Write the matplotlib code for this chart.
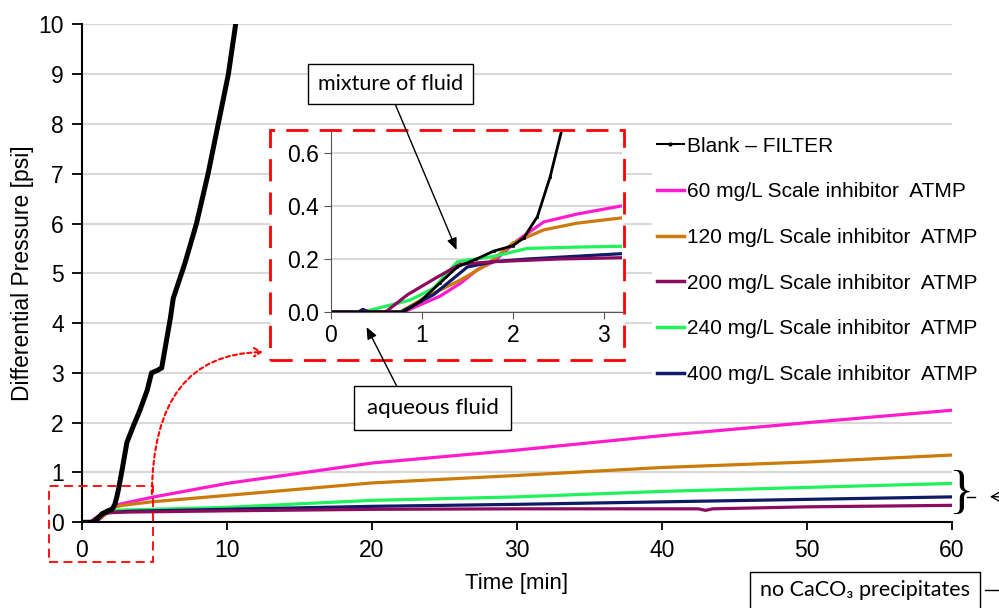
import matplotlib
matplotlib.use("Agg")
import matplotlib.pyplot as plt
from matplotlib.lines import Line2D
from matplotlib.patches import Rectangle, FancyArrowPatch

plt.rcParams['font.family'] = ['Liberation Sans', 'DejaVu Sans']

# Data (time [min], differential pressure [psi])
blank_t = [0, 0.8, 0.98, 1.2, 1.39, 1.6, 1.79, 2.0, 2.12, 2.27, 2.41, 2.54, 2.8, 3.1, 3.5,
           4.0, 4.5, 4.8, 5.2, 5.5, 6.1, 6.3, 7.1, 7.9, 8.7, 9.4, 10.1, 10.6]
blank_p = [0, 0, 0.04, 0.11, 0.17, 0.2, 0.23, 0.25, 0.28, 0.36, 0.51, 0.69, 1.1, 1.6, 1.9,
           2.25, 2.65, 3.0, 3.05, 3.1, 4.1, 4.5, 5.2, 6.0, 7.0, 8.0, 9.0, 10.0]

atmp60_t = [0, 0.8, 1.0, 1.2, 1.43, 1.61, 1.79, 2.05, 2.34, 2.71, 3.19, 4.8, 10, 20, 30, 40, 50, 60]
atmp60_p = [0, 0, 0.03, 0.06, 0.11, 0.16, 0.19, 0.27, 0.34, 0.37, 0.40, 0.50, 0.78, 1.19, 1.45,
            1.74, 2.0, 2.25]

atmp120_t = [0, 0.76, 1.05, 1.42, 1.72, 2.0, 2.34, 2.7, 3.19, 4.8, 10, 20, 30, 40, 50, 60]
atmp120_p = [0, 0, 0.058, 0.12, 0.18, 0.26, 0.31, 0.335, 0.355, 0.41, 0.54, 0.79, 0.94, 1.1,
             1.21, 1.35]

atmp200_t = [0, 0.6, 0.84, 1.16, 1.42, 1.79, 2.5, 3.19, 10, 20, 30, 40, 42.5, 43, 43.5, 50, 60]
atmp200_p = [0, 0, 0.065, 0.13, 0.18, 0.19, 0.2, 0.205, 0.23, 0.26, 0.27, 0.27, 0.27, 0.24,
             0.27, 0.31, 0.34]

atmp240_t = [0, 0.35, 0.87, 1.13, 1.39, 1.79, 2.16, 2.7, 3.19, 10, 20, 30, 40, 50, 60]
atmp240_p = [0, 0, 0.045, 0.09, 0.19, 0.21, 0.24, 0.245, 0.248, 0.30, 0.44, 0.51, 0.62, 0.70, 0.78]

atmp400_t = [0, 0.3, 0.35, 0.42, 0.77, 1.13, 1.5, 1.79, 2.16, 3.19, 10, 20, 30, 40, 50, 60]
atmp400_p = [0, 0, 0.01, 0, 0, 0.066, 0.17, 0.19, 0.2, 0.22, 0.26, 0.32, 0.36, 0.41, 0.46, 0.51]

labels = ["Blank \u2013 FILTER",
          "60 mg/L Scale inhibitor  ATMP",
          "120 mg/L Scale inhibitor  ATMP",
          "200 mg/L Scale inhibitor  ATMP",
          "240 mg/L Scale inhibitor  ATMP",
          "400 mg/L Scale inhibitor  ATMP"]
colors = ["black", "#ff1ccd", "#cc7a0a", "#8c0b5e", "#1ff25a", "#0f1b66"]

series = [(atmp60_t, atmp60_p), (atmp120_t, atmp120_p), (atmp240_t, atmp240_p),
          (atmp400_t, atmp400_p), (atmp200_t, atmp200_p)]
series_colors = [colors[1], colors[2], colors[4], colors[5], colors[3]]

fig = plt.figure(figsize=(9.99, 6.08), dpi=100)
ax = fig.add_axes([0.082, 0.141, 0.871, 0.819])

for (t, p), c in zip(series, series_colors):
    ax.plot(t, p, color=c, lw=2.3, zorder=3)
ax.plot(blank_t, blank_p, color="black", lw=3.6, zorder=4)

ax.set_xlim(0, 60)
ax.set_ylim(0, 10)
ax.set_xticks(range(0, 61, 10))
ax.set_yticks(range(0, 11))
ax.grid(axis="y", color="#d9d9d9", lw=1.5)
ax.set_axisbelow(True)
for s in ["top", "right"]:
    ax.spines[s].set_visible(False)
ax.spines["left"].set_linewidth(1.5)
ax.spines["bottom"].set_linewidth(1.5)
ax.tick_params(labelsize=16.5, width=1.3)
ax.tick_params(axis="y", length=7, pad=6)
ax.tick_params(axis="x", length=6, pad=6)
ax.set_xlabel("Time [min]", fontsize=16, labelpad=8)
ax.set_ylabel("Differential Pressure [psi]", fontsize=16.5, labelpad=3)

# small highlighted region
ax.add_patch(Rectangle((-2.28, -0.8), 7.18, 1.52, fill=False, edgecolor="red",
                       lw=1.3, linestyle=(0, (5, 3)), clip_on=False, zorder=6))

# inset frame
ax.add_patch(Rectangle((0.2703, 0.4079), 0.3544, 0.3783, transform=fig.transFigure,
                       facecolor="white", edgecolor="red", lw=2,
                       linestyle=(0, (8, 4)), clip_on=False, zorder=7))

arc = FancyArrowPatch((0.152, 0.183), (0.266, 0.421), transform=fig.transFigure,
                      connectionstyle="angle3,angleA=90,angleB=0",
                      arrowstyle="->,head_length=5,head_width=3", color="red",
                      lw=1.5, linestyle=(0, (2, 1.5)), zorder=6)
fig.add_artist(arc)

# legend
handles = [Line2D([], [], color=colors[0], lw=1.5, marker=".", ms=4)]
handles += [Line2D([], [], color=c, lw=2.5) for c in colors[1:]]
leg = ax.legend(handles, labels, loc="upper left", bbox_to_anchor=(0.653, 0.782),
                bbox_transform=fig.transFigure, fontsize=15, frameon=True,
                facecolor="white", edgecolor="none", framealpha=1,
                handlelength=1.3, handletextpad=0.15, labelspacing=1.28, borderpad=0.2,
                borderaxespad=0)
leg.set_zorder(8)

# inset axes
axi = fig.add_axes([0.3313, 0.4868, 0.2913, 0.2964])
for (t, p), c in zip(series, series_colors):
    axi.plot(t, p, color=c, lw=2.3)
axi.plot(blank_t, blank_p, color="black", lw=2, marker=".", ms=2.5)
axi.set_xlim(0, 3.2)
axi.set_ylim(0, 0.68)
axi.set_xticks([0, 1, 2, 3])
axi.set_yticks([0.0, 0.2, 0.4, 0.6])
axi.set_yticklabels(["0.0", "0.2", "0.4", "0.6"])
axi.grid(axis="y", color="#d9d9d9", lw=1.5)
axi.set_axisbelow(True)
for s in ["top", "right"]:
    axi.spines[s].set_visible(False)
axi.spines["left"].set_color("#555555")
axi.spines["bottom"].set_color("#555555")
axi.tick_params(labelsize=16.5, length=5, color="#555555")

# annotations
box_font = ["Lato", "DejaVu Sans"]
fig.text(0.391, 0.862, "mixture of fluid", family=box_font, fontsize=15.5,
         ha="center", va="center", zorder=10,
         bbox=dict(boxstyle="square,pad=0.45", fc="white", ec="black", lw=1))
fig.text(0.433, 0.329, "aqueous fluid", family=box_font, fontsize=16,
         ha="center", va="center", zorder=10,
         bbox=dict(boxstyle="square,pad=0.55", fc="white", ec="black", lw=1))
for start, end in [((0.395, 0.831), (0.457, 0.589)), ((0.398, 0.362), (0.367, 0.462))]:
    fig.add_artist(FancyArrowPatch(start, end, transform=fig.transFigure,
                                   arrowstyle="-|>,head_length=7,head_width=3",
                                   color="black", lw=1, shrinkA=0, shrinkB=0, zorder=9))

# brace on the right side and cut-off note
fig.text(0.9615, 0.188, "}", fontsize=38, ha="center", va="center",
         family=["Liberation Serif"])
fig.add_artist(Line2D([0.968, 0.976], [0.183, 0.183], color="black", lw=1))
fig.add_artist(FancyArrowPatch((1.03, 0.183), (0.991, 0.183), transform=fig.transFigure,
                               arrowstyle="->,head_length=7,head_width=4",
                               color="black", lw=1, shrinkA=0, shrinkB=0))
fig.add_artist(Rectangle((0.751, -0.05), 0.23, 0.109, transform=fig.transFigure,
                         fill=False, edgecolor="black", lw=1))
fig.text(0.8655, 0.029, "no CaCO\u2083 precipitates", family=box_font, fontsize=15.5,
         ha="center", va="center")
fig.add_artist(Line2D([0.986, 1.0], [0.029, 0.029], color="black", lw=1))

fig.savefig("out.png", dpi=100)
